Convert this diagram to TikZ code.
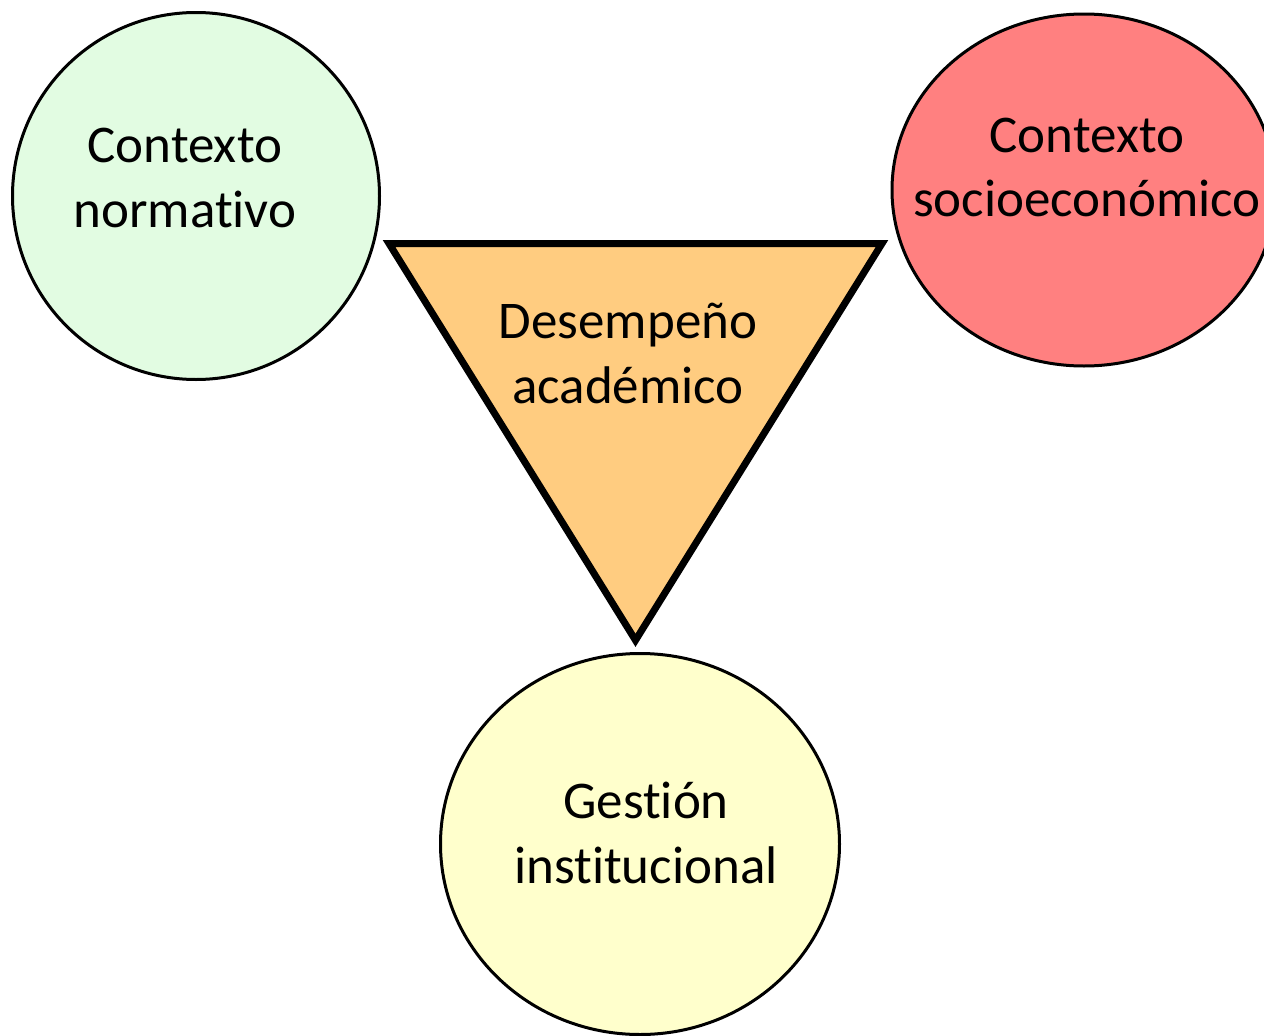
\documentclass[tikz,border=0pt]{standalone}
\usepackage{fontspec}
\setmainfont{Carlito}[RawFeature={-liga}]
\usetikzlibrary{shapes.geometric}
\definecolor{normgreen}{RGB}{226,252,226}
\definecolor{socred}{RGB}{255,128,128}
\definecolor{acadorange}{RGB}{255,204,128}
\definecolor{gestyellow}{RGB}{255,255,204}

\begin{document}
\begin{tikzpicture}[x=1pt,y=-1pt,font=\fontsize{53}{64.5}\selectfont]
    \tikzstyle{blob}=[draw, ellipse, line width=3pt, inner sep=0pt]
    \tikzstyle{txt}=[align=center, inner sep=0pt]
    \useasboundingbox (0,0) rectangle (1264,1036);

    % the three contexts
    \node[blob, fill=normgreen, minimum width=367pt, minimum height=367pt] (normativo) at (196,196) {};
    \node[blob, fill=socred, minimum width=384pt, minimum height=352pt] (socio) at (1084,190) {};
    \node[blob, fill=gestyellow, minimum width=399pt, minimum height=381pt] (gestion) at (640,844) {};

    % triangle in the middle
    \coordinate (tl) at (389,243.5);
    \coordinate (tr) at (882,243.5);
    \coordinate (tip) at (635.5,640.3);
    \draw[line width=7pt, fill=acadorange] (tl) -- (tr) -- (tip) -- cycle;

    \node[txt] (normativotxt) at (185,178) {Contexto\\normativo};
    \node[txt] (sociotxt) at (1087,167.5) {Contexto\\socioeconómico};
    \node[txt] (acadtxt) at (628,353.5) {Desempeño\\académico};
    \node[txt] (gestiontxt) at (646,833) {Gestión\\institucional};
\end{tikzpicture}
\end{document}
